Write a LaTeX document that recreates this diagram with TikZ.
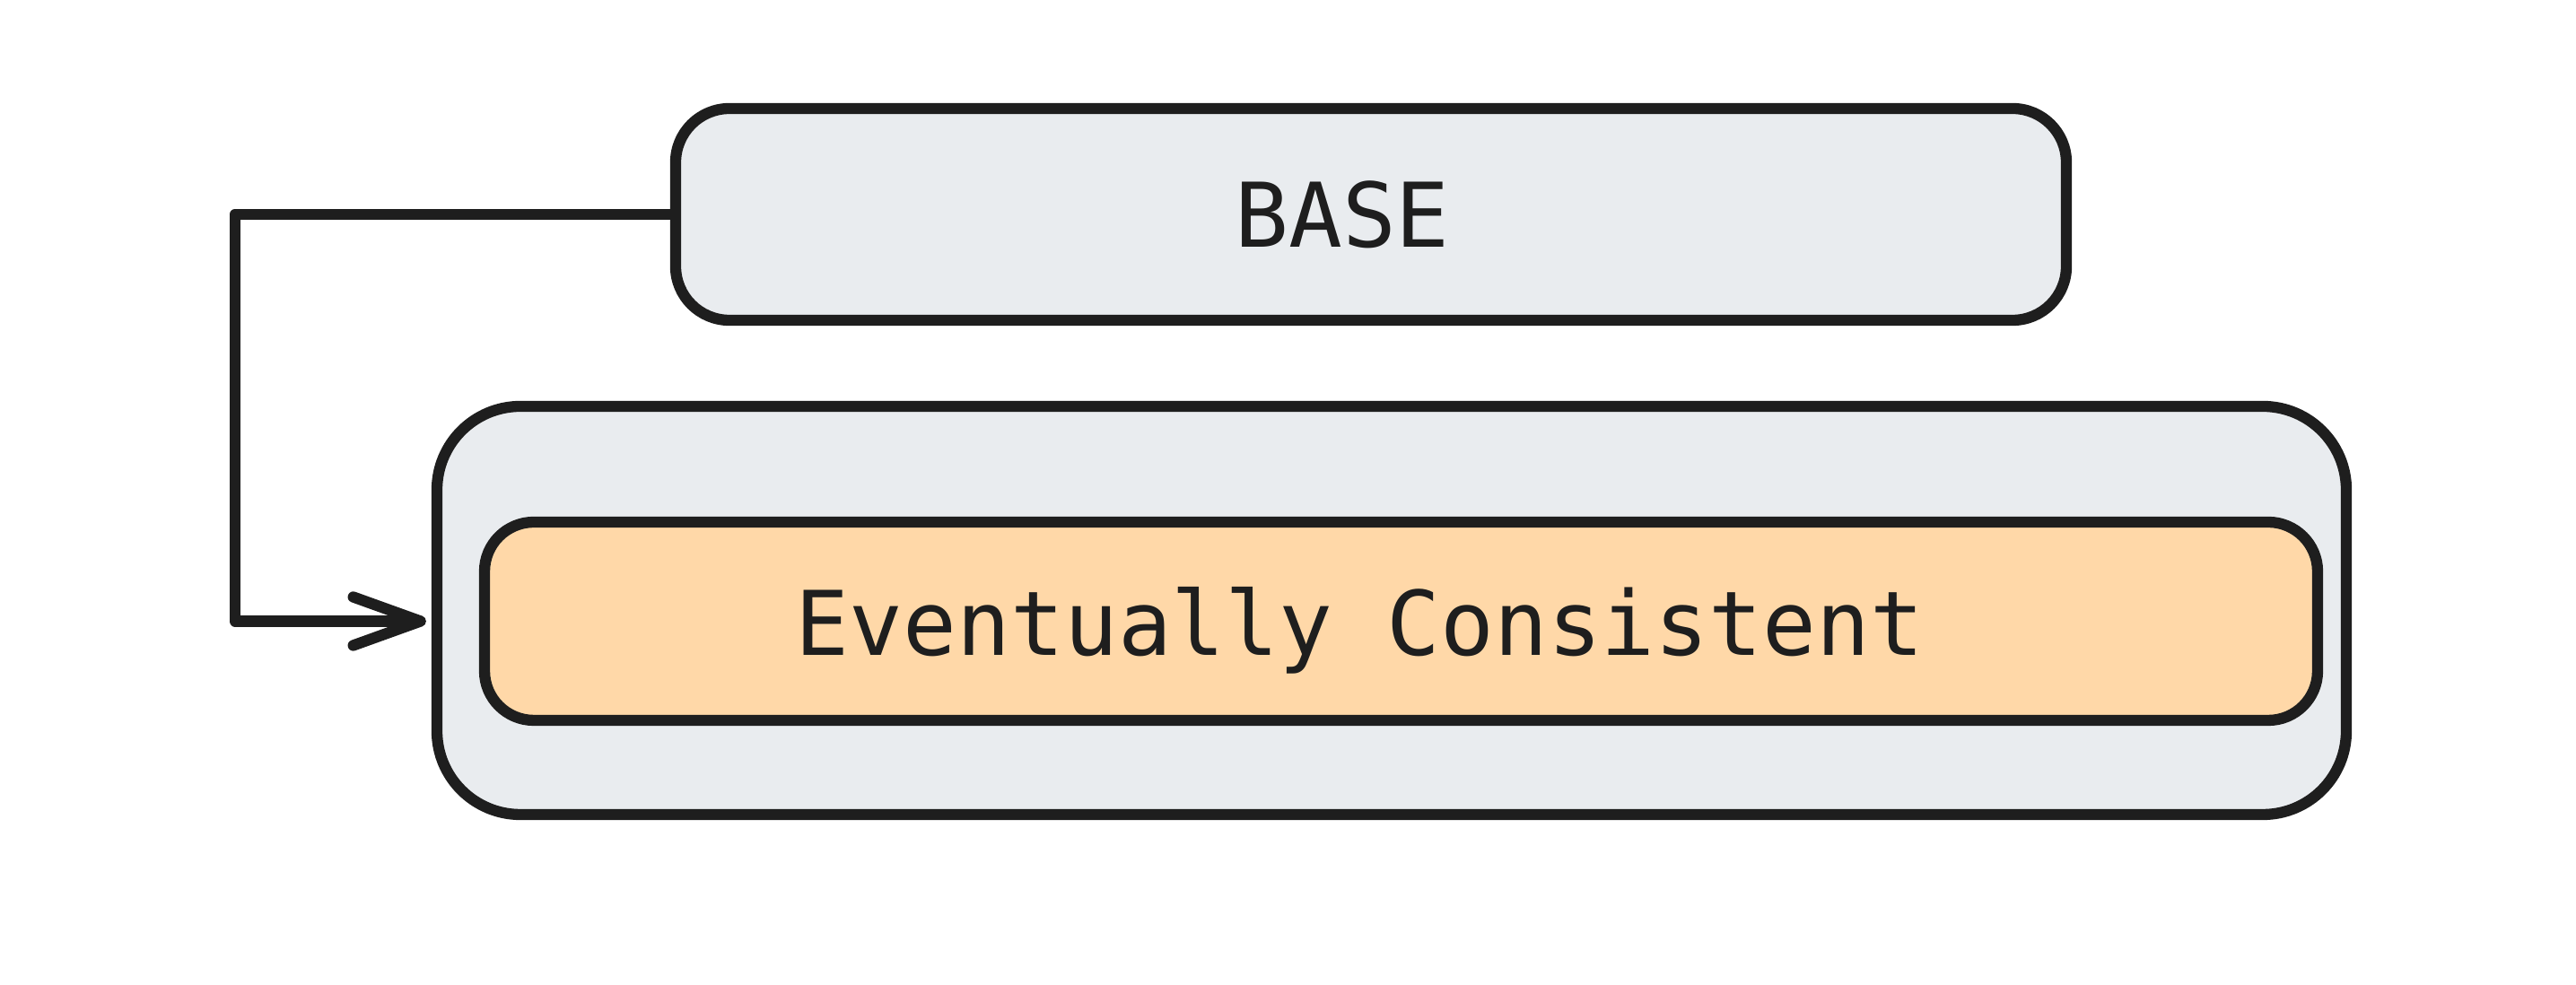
\documentclass[tikz,border=0pt]{standalone}
\usepackage{fontspec}
\setmonofont{DejaVu Sans Mono}
\usetikzlibrary{arrows.meta}
\definecolor{ink}{HTML}{1E1E1E}
\definecolor{boxgray}{HTML}{E9ECEF}
\definecolor{boxorange}{HTML}{FFD8A8}

\begin{document}
\begin{tikzpicture}
        [
        block/.style={draw=ink,line width=3.5pt,fill=boxgray,text=ink,text depth=0pt,
                      font=\ttfamily\fontsize{28.3}{34}\selectfont},
        link/.style={draw=ink,line width=3.5pt,line join=round,line cap=round,
                     -{Straight Barb[length=7.5mm,width=5.4mm,round]}}
        ]
    \useasboundingbox (0,0) rectangle (28.71,10.98);
    \node[block,minimum width=15.5cm,minimum height=2.36cm,rounded corners=0.6cm] (base) at (15.28,8.59) {BASE\kern0.64cm};
    \node[block,minimum width=21.28cm,minimum height=4.55cm,rounded corners=0.93cm] (outer) at (15.51,4.175) {};
    \node[block,fill=boxorange,minimum width=20.43cm,minimum height=2.21cm,rounded corners=0.55cm] (inner) at (15.615,4.055) {Eventually Consistent\kern0.92cm};
    \coordinate (turn) at (2.62,0);
    \draw[link] (base.west) -| (turn |- inner.west) -- ([xshift=-0.6mm]outer.west |- inner.west);
\end{tikzpicture}
\end{document}
